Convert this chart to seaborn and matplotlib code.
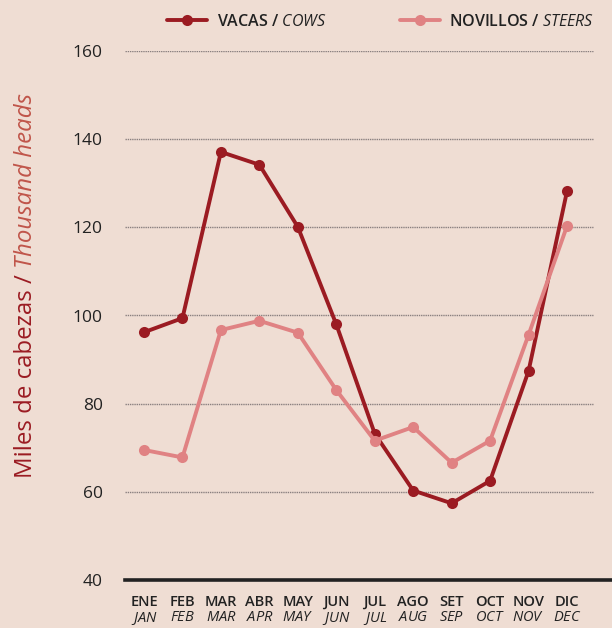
import matplotlib
matplotlib.use("Agg")
import matplotlib.pyplot as plt
import numpy as np
import pandas as pd
import seaborn as sns

# data
months_es = ["ENE", "FEB", "MAR", "ABR", "MAY", "JUN", "JUL", "AGO", "SET", "OCT", "NOV", "DIC"]
months_en = ["JAN", "FEB", "MAR", "APR", "MAY", "JUN", "JUL", "AUG", "SEP", "OCT", "NOV", "DEC"]
vacas = [96.2, 99.4, 137.1, 134.2, 120.1, 98.0, 73.2, 60.3, 57.4, 62.5, 87.4, 128.2]
novillos = [69.5, 67.8, 96.7, 98.8, 96.1, 83.1, 71.6, 74.7, 66.6, 71.6, 95.6, 120.3]

bg = "#EFDDD3"
c_cows = "#9B1B22"
c_steers = "#E08283"

sns.set_style("white")
plt.rcParams["font.family"] = ["Open Sans", "DejaVu Sans"]
plt.rcParams["mathtext.fontset"] = "custom"
plt.rcParams["mathtext.it"] = "Open Sans:italic"
plt.rcParams["mathtext.rm"] = "Open Sans"

df = pd.DataFrame({
    "idx": list(range(12)) * 2,
    "value": vacas + novillos,
    "serie": [r"VACAS / $\it{COWS}$"] * 12 + [r"NOVILLOS / $\it{STEERS}$"] * 12,
})

fig = plt.figure(figsize=(6.12, 6.28), dpi=100, facecolor=bg)
ax = fig.add_axes([125 / 612, 1 - 580 / 628, 487 / 612, (580 - 51) / 628])
ax.set_facecolor(bg)

sns.lineplot(data=df, x="idx", y="value", hue="serie",
             palette=[c_cows, c_steers], marker="o", markersize=8,
             markeredgewidth=0, linewidth=2.8, ax=ax)

ax.set_xlim(-0.494, 12.17)
ax.set_ylim(40, 160)
ax.set_yticks(range(40, 161, 20))
ax.tick_params(axis="y", length=0, pad=16, labelsize=12.5, labelcolor="#222222")
ax.tick_params(axis="x", length=0, pad=10.5)
ax.set_xticks(range(12))
# two-line month labels: Spanish bold on top, English italic below
labels = [es + "\n" + r"$\it{" + en + "}$" for es, en in zip(months_es, months_en)]
ax.set_xticklabels(labels, fontsize=10.5, fontweight="semibold", color="#222222",
                   linespacing=1.15)

for y in range(60, 161, 20):
    ax.axhline(y, xmin=0, xmax=(593 - 125) / 487, color="#8a8080",
               linestyle=(0, (1, 0.6)), linewidth=1, zorder=0)

for s in ["left", "right", "top"]:
    ax.spines[s].set_visible(False)
ax.spines["bottom"].set_color("#222222")
ax.spines["bottom"].set_linewidth(2.6)
ax.set_xlabel("")
ax.set_ylabel("")

leg = ax.legend(loc="center", bbox_to_anchor=((381 - 125) / 487, 1 + 29 / 529),
                bbox_transform=ax.transAxes, ncol=2, frameon=False,
                fontsize=11.5, columnspacing=4.6, handlelength=2.5, handletextpad=0.6)
for t in leg.get_texts():
    t.set_fontweight("semibold")
    t.set_color("#222222")

# y label in two colours
t1 = fig.text(26 / 612, 1 - 478 / 628, "Miles de cabezas / ", rotation=90,
              ha="left", va="center", rotation_mode="anchor",
              fontsize=17.3, color=c_cows)
fig.canvas.draw()
bb = t1.get_window_extent()
fig.text(26 / 612, bb.y1 / fig.bbox.height, "Thousand heads", rotation=90,
         ha="left", va="center", rotation_mode="anchor",
         fontsize=17.3, color="#C0554A", style="italic")

fig.savefig("out.png", dpi=100, facecolor=bg)
